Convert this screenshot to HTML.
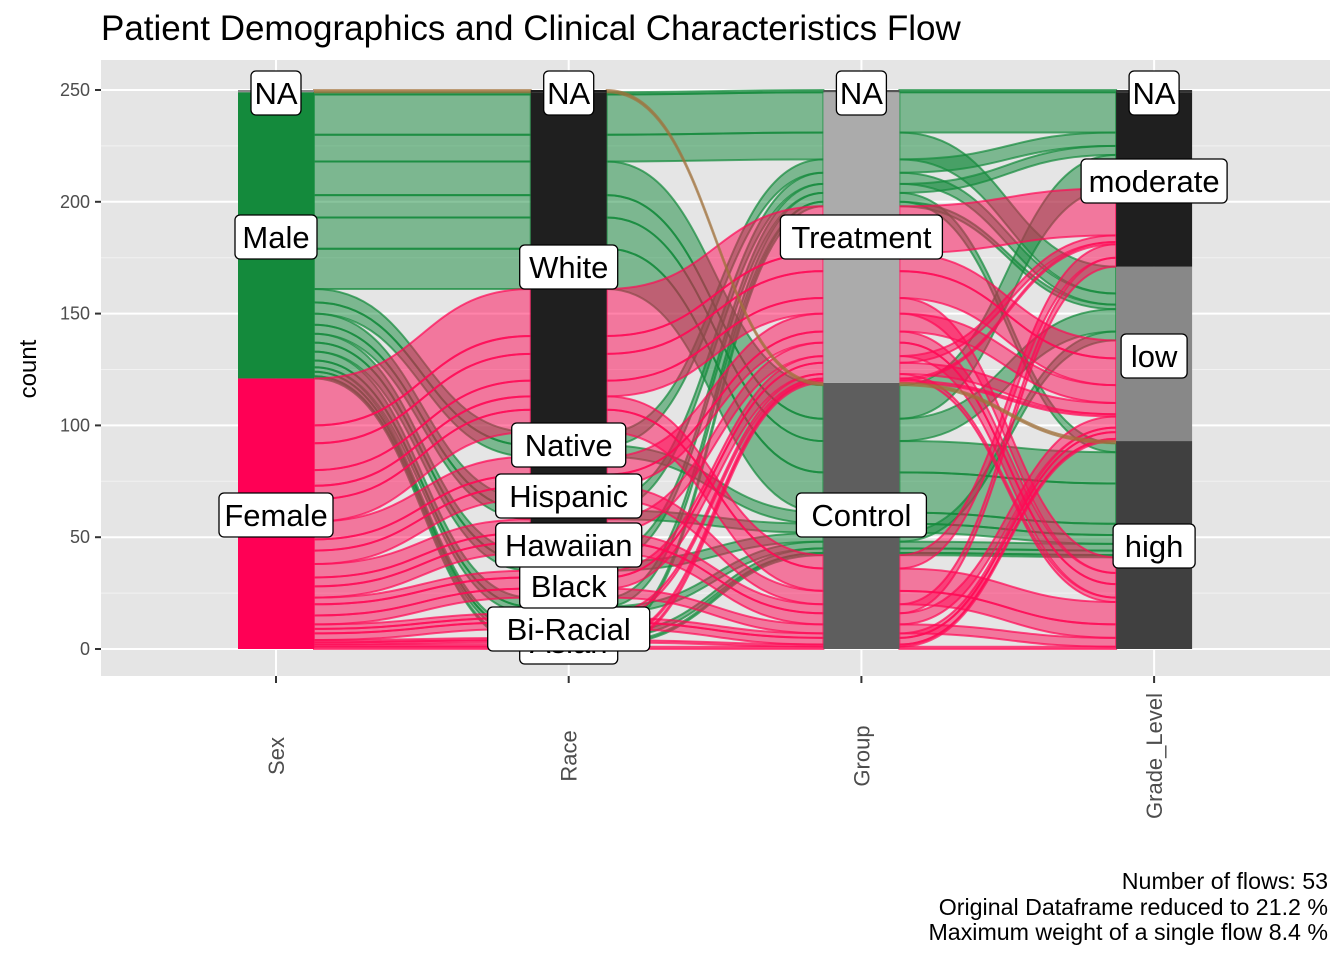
<!DOCTYPE html>
<html><head><meta charset="utf-8"><style>
body{margin:0;background:#fff;font-family:"Liberation Sans",Arial,sans-serif}
svg text{font-family:"Liberation Sans",Arial,sans-serif}
</style></head><body>
<svg id="chart" width="1344" height="960" xmlns="http://www.w3.org/2000/svg">
<text x="101" y="40" font-size="35" fill="#000">Patient Demographics and Clinical Characteristics Flow</text>
<rect x="101" y="60" width="1229" height="616" fill="#E5E5E5"/>
<g id="grid"></g><g id="flows"></g><g id="strata"></g><g id="labels"></g><g id="axes"></g>
<text transform="translate(36,369) rotate(-90)" text-anchor="middle" font-size="24" fill="#000">count</text>
<g font-size="23.2" fill="#000" text-anchor="end">
<text x="1328" y="889">Number of flows: 53</text>
<text x="1328" y="915">Original Dataframe reduced to 21.2 %</text>
<text x="1328" y="940">Maximum weight of a single flow 8.4 %</text>
</g>
</svg>
<script>
const axisNames=["Sex","Race","Group","Grade_Level"];
const strataSex=["Female","Male","NA"];
const strataRace=["Asian","Bi-Racial","Black","Hawaiian","Hispanic","Native","White","NA"];
const strataGroup=["Control","Treatment","NA"];
const strataGrade=["high","low","moderate","NA"];
const flowSex=["Male","Male","Male","Male","Male","Male","Male","Male","Male","Male","Male","Male","Male","Male","Male","Male","Male","Male",
"Female","Female","Female","Female","Female","Female","Female","Female","Female","Female","Female","Female","Female","Female","Female","Female","Female","Female","Female","Female","Female","Female","NA"];
const flowRace=["White","White","White","White","White","White","White","Native","Native","Hispanic","Hispanic","Hawaiian","Hawaiian","Black","Black","Bi-Racial","Bi-Racial","Asian",
"White","White","White","White","White","White","Native","Native","Native","Hispanic","Hispanic","Hispanic","Hawaiian","Hawaiian","Hawaiian","Black","Black","Black","Bi-Racial","Bi-Racial","Asian","Asian","NA"];
const flowGroup=["Treatment","Treatment","Control","Control","Control","Control","NA","Treatment","Control","Treatment","Control","Treatment","Control","Treatment","Control","Control","Treatment","Control",
"Treatment","Treatment","Control","Treatment","Treatment","Control","Treatment","Control","Treatment","Treatment","Control","Control","Treatment","Control","Treatment","Control","Treatment","Control","Treatment","Control","Control","Treatment","Control"];
const flowGrade=["moderate","low","high","high","low","moderate","NA","moderate","high","low","high","moderate","low","high","high","high","low","high",
"moderate","low","high","low","high","moderate","low","high","high","high","low","moderate","low","high","moderate","low","high","low","moderate","low","high","low","high"];
const flowCount=[18,12,18,14,10,15,1,6,5,5,4,4,4,4,3,2,2,1,
21,12,10,8,7,6,8,6,5,6,5,4,5,4,3,3,2,2,1,1,1,1,1];
const yTicks=[0,50,100,150,200,250];
const labelText=[["Female","Male","NA"],["Asian","Bi-Racial","Black","Hawaiian","Hispanic","Native","White","NA"],["Control","Treatment","NA"],["high","low","moderate","NA"]];
const labelY=[[515,237,93],[642,629,586,545,496,445,267,93],[515,237,93],[546,356,181,93]];

const NS="http://www.w3.org/2000/svg";
const yScale=v=>649-v*(559/250);
const axisX=i=>276+i*292.7;
const HW=38;
function mk(tag,attrs,parent){const e=document.createElementNS(NS,tag);for(const k in attrs)e.setAttribute(k,attrs[k]);parent.appendChild(e);return e;}
const grid=document.getElementById('grid'),axes=document.getElementById('axes');
for(let v=25;v<250;v+=50){const l=mk('line',{x1:101,x2:1330,y1:yScale(v),y2:yScale(v),stroke:'#F2F2F2','stroke-width':1},grid);

}
yTicks.forEach(v=>{const l=mk('line',{x1:101,x2:1330,y1:yScale(v),y2:yScale(v),stroke:'#fff','stroke-width':2},grid);


const tk=mk('line',{x1:95,x2:101,y1:yScale(v),y2:yScale(v),stroke:'#333','stroke-width':2},axes);


const t=mk('text',{x:90,y:yScale(v)+6,'text-anchor':'end','font-size':18,fill:'#4D4D4D'},axes);t.textContent=v;

});
axisNames.forEach((n,i)=>{const x=axisX(i);
const g=mk('line',{x1:x,x2:x,y1:60,y2:676,stroke:'#fff','stroke-width':2},grid);


const tk=mk('line',{x1:x,x2:x,y1:676,y2:683,stroke:'#333','stroke-width':2},axes);


const t=mk('text',{transform:`translate(${x+8},756) rotate(-90)`,'text-anchor':'middle','font-size':22,fill:'#4D4D4D'},axes);t.textContent=n;

});

const strata=[strataSex,strataRace,strataGroup,strataGrade];
const flowCols=[flowSex,flowRace,flowGroup,flowGrade];
const idx=flowCount.map((c,f)=>flowCols.map((col,a)=>strata[a].indexOf(col[f])));
const pos=flowCount.map(()=>[]);
const stratumRange=strata.map(s=>s.map(()=>[0,0]));
for(let a=0;a<4;a++){
  const order=flowCount.map((c,f)=>f).sort((p,q)=>{
    if(idx[p][a]!==idx[q][a])return idx[p][a]-idx[q][a];
    const others=a>=2?[0,a-1,...[1,2,3].filter(o=>o!==a&&o!==a-1)]:[];
    if(a<2){for(let d=1;d<4;d++){if(a-d>=0)others.push(a-d);if(a+d<4)others.push(a+d);}}
    for(const o of others){if(idx[p][o]!==idx[q][o])return idx[p][o]-idx[q][o];}
    return p-q;});
  let cum=0;
  strata[a].forEach((s,si)=>{stratumRange[a][si][0]=cum;
    order.filter(f=>idx[f][a]===si).forEach(f=>{pos[f][a]=[cum,cum+flowCount[f]];cum+=flowCount[f];});
    stratumRange[a][si][1]=cum;});
}
const flowsG=document.getElementById('flows');
const colorOf=s=>s==="Male"?"#148A3C":s==="Female"?"#FF0A55":"#A0703A";
flowCount.forEach((c,f)=>{
  const col=colorOf(flowSex[f]);
  for(let a=0;a<3;a++){
    const x0=axisX(a)+HW,x1=axisX(a+1)-HW,xm=(x0+x1)/2;
    const [b0,t0]=pos[f][a],[b1,t1]=pos[f][a+1];
    const d=`M${x0},${yScale(t0)} C${xm},${yScale(t0)} ${xm},${yScale(t1)} ${x1},${yScale(t1)} L${x1},${yScale(b1)} C${xm},${yScale(b1)} ${xm},${yScale(b0)} ${x0},${yScale(b0)} Z`;
    const p=mk('path',{d,fill:col,'fill-opacity':0.5,stroke:col,'stroke-opacity':0.7,'stroke-width':2},flowsG);
    
    
  }
});
const strataG=document.getElementById('strata');
const fills=[["#FF0055","#148A3C","#888"],["#1F1F1F","#1F1F1F","#1F1F1F","#1F1F1F","#1F1F1F","#1F1F1F","#1F1F1F","#1F1F1F"],["#5E5E5E","#ABABAB","#555"],["#404040","#888888","#1F1F1F","#333"]];
strata.forEach((s,a)=>s.forEach((n,si)=>{const [b,t]=stratumRange[a][si];if(t<=b)return;
  const r=mk('rect',{x:axisX(a)-HW,y:yScale(t),width:HW*2,height:yScale(b)-yScale(t),fill:fills[a][si]},strataG);
  
  }));
const labG=document.getElementById('labels');
labelText.forEach((arr,a)=>arr.forEach((txt,i)=>{
  const x=axisX(a),y=labelY[a][i];
  const w=txt.length*16+18;
  const r=mk('rect',{x:x-w/2,y:y-22,width:w,height:44,rx:5,fill:'#fff',stroke:'#000','stroke-width':1.3},labG);
  
  
  const t=mk('text',{x,y:y+11,'text-anchor':'middle','font-size':31,fill:'#000'},labG);t.textContent=txt;
  
  
}));
</script>
</body></html>
